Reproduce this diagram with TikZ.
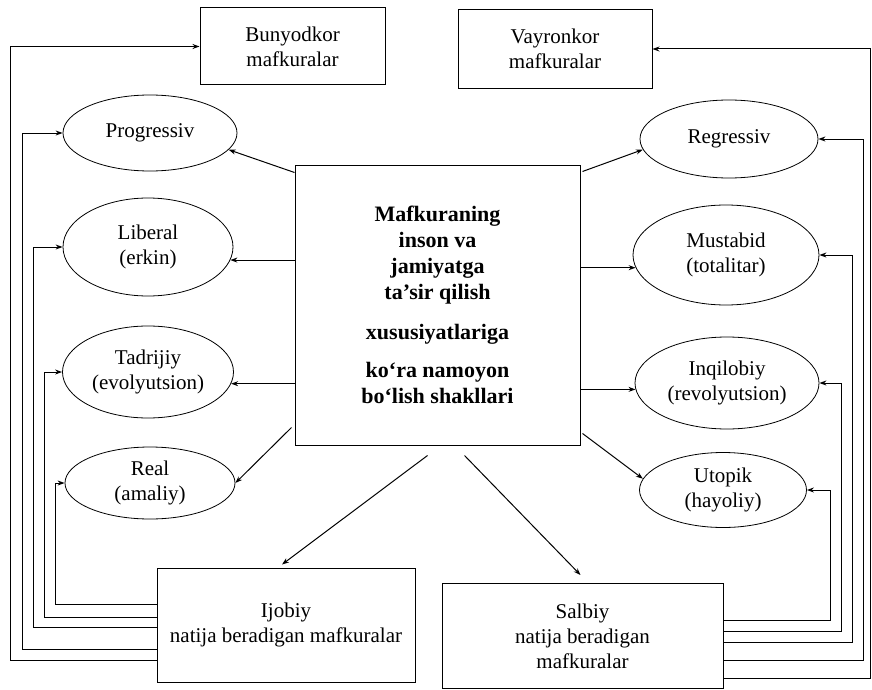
\documentclass[tikz,border=0pt]{standalone}
\usepackage{fontspec}
\setmainfont{Liberation Serif}
\usetikzlibrary{shapes.geometric,arrows.meta,calc}
\begin{document}
\begin{tikzpicture}[x=1pt,y=-1pt,
  base/.style={font=\fontsize{21}{25}\selectfont, align=center, inner sep=0pt},
  rbox/.style={base, draw, line width=1pt, rectangle},
  oval/.style={base, draw, line width=0.8pt, ellipse},
  arr/.style={line width=1pt, -{Stealth[length=7pt,width=5pt]}},
  fb/.style={line width=1pt, -{Stealth[length=7pt,width=5pt]}},
]
\useasboundingbox (0,0) rectangle (872,690);

% top boxes
\node[rbox, minimum width=185pt, minimum height=77pt] (bun) at (292.5,46.5) {Bunyodkor\\mafkuralar};
\node[rbox, minimum width=194pt, minimum height=79pt] (vay) at (555,49) {Vayronkor\\mafkuralar};

% centre box
\node[rbox, minimum width=285pt, minimum height=280pt, font=\bfseries\fontsize{22}{26}\selectfont] (ctr) at (437.5,305)
  {Mafkuraning\\inson va\\jamiyatga\\ta’sir qilish\\[14pt]xususiyatlariga\\[12pt]ko‘ra namoyon\\bo‘lish shakllari};

% left ellipses
\node[oval, minimum width=174pt, minimum height=76pt] (prog) at (150,133) {Progressiv};
\node[oval, minimum width=170pt, minimum height=98pt] (lib) at (148,247) {Liberal\\(erkin)};
\node[oval, minimum width=171pt, minimum height=92pt] (tad) at (148,372) {Tadrijiy\\(evolyutsion)};
\node[oval, minimum width=170pt, minimum height=72pt] (real) at (150,483) {Real\\(amaliy)};

% right ellipses
\node[oval, minimum width=178pt, minimum height=78pt] (reg) at (729,139) {Regressiv};
\node[oval, minimum width=186pt, minimum height=100pt] (must) at (726,255) {Mustabid\\(totalitar)};
\node[oval, minimum width=184pt, minimum height=92pt] (inq) at (727,383) {Inqilobiy\\(revolyutsion)};
\node[oval, minimum width=167pt, minimum height=75pt] (uto) at (723,490) {Utopik\\(hayoliy)};

% bottom boxes
\node[rbox, minimum width=258pt, minimum height=114pt] (ijo) at (286,625) {Ijobiy\\natija beradigan mafkuralar};
\node[rbox, minimum width=281pt, minimum height=105pt] (sal) at (582.5,636) {Salbiy\\natija beradigan\\mafkuralar};

% arrows from the centre
\draw[arr] ($(ctr.north west)+(0,8)$) -- (prog.-12);
\draw[arr] (ctr.west |- lib.-9) -- (lib.-9);
\draw[arr] (ctr.west |- tad.-8) -- (tad.-8);
\draw[arr] ($(ctr.south west)+(-3,-18)$) -- (real.east);
\draw[arr] ($(ctr.north east)+(2,7)$) -- (reg.-173);
\draw[arr] (ctr.east |- must.-172) -- (must.-172);
\draw[arr] (ctr.east |- inq.-176) -- (inq.-176);
\draw[arr] ($(ctr.south east)+(2,-12)$) -- (uto.172);
\draw[arr] ($(ctr.south)+(-10,10)$) -- ($(ijo.north)+(-4,-3)$);
\draw[arr] ($(ctr.south)+(27,10)$) -- ($(sal.north)+(-2,-8)$);

% feedback lines, left
\draw[fb] (ijo.west |- 0,604) -- (55,604) |- (real.west);
\draw[fb] (ijo.west |- 0,617) -- (44,617) |- (tad.west);
\draw[fb] (ijo.west |- 0,627) -- (33,627) |- (lib.west);
\draw[fb] (ijo.west |- 0,649) -- (22,649) |- (prog.west);
\draw[fb] (ijo.west |- 0,660) -- (10,660) |- (bun.west);

% feedback lines, right
\draw[fb] (sal.east |- 0,620) -- (830,620) |- (uto.east);
\draw[fb] (sal.east |- 0,631) -- (841,631) |- (inq.east);
\draw[fb] (sal.east |- 0,642) -- (852,642) |- (must.east);
\draw[fb] (sal.east |- 0,660) -- (863,660) |- (reg.east);
\draw[fb] (sal.east |- 0,678) -- (870,678) |- (vay.east);
\end{tikzpicture}
\end{document}
